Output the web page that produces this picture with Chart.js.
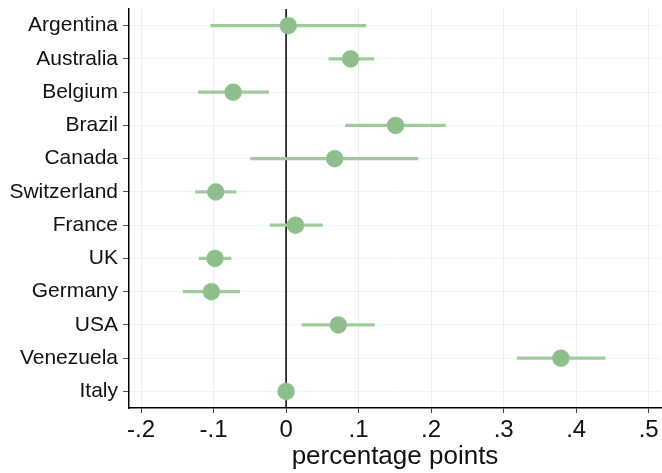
<!DOCTYPE html>
<html>
<head>
<meta charset="utf-8">
<script src="https://cdn.jsdelivr.net/npm/chart.js@4"></script>
<style>
  html, body { margin: 0; padding: 0; background: #fff; overflow: hidden; }
  #wrap { width: 670px; height: 473px; }
</style>
</head>
<body>
<div id="wrap"><canvas id="canvas1"></canvas></div>
<script>
const countries = ['Argentina', 'Australia', 'Belgium', 'Brazil', 'Canada', 'Switzerland',
  'France', 'UK', 'Germany', 'USA', 'Venezuela', 'Italy'];
const estimate = [0.003, 0.089, -0.073, 0.151, 0.067, -0.097, 0.013, -0.098, -0.103, 0.072, 0.379, 0.0];
const ciLow  = [-0.104, 0.059, -0.121, 0.082, -0.049, -0.125, -0.022, -0.120, -0.142, 0.022, 0.319, null];
const ciHigh = [0.110, 0.121, -0.024, 0.220, 0.182, -0.069, 0.050, -0.076, -0.064, 0.122, 0.440, null];
const xTicks = [-0.2, -0.1, 0, 0.1, 0.2, 0.3, 0.4, 0.5];
const xTickLabels = ['-.2', '-.1', '0', '.1', '.2', '.3', '.4', '.5'];

const ranges = ciLow.map((lo, i) => lo === null ? null : [lo, ciHigh[i]]);

// black reference line at zero, drawn over the grid but under the marks
const zeroLine = {
  id: 'zeroLine',
  beforeDatasetsDraw(chart) {
    const x = chart.scales.x.getPixelForValue(0);
    const a = chart.chartArea;
    const c = chart.ctx;
    c.save();
    c.strokeStyle = '#000';
    c.lineWidth = 1.5;
    c.beginPath();
    c.moveTo(x, a.top);
    c.lineTo(x, a.bottom);
    c.stroke();
    c.restore();
  }
};

const ctx1 = document.getElementById('canvas1');
const c1 = new Chart(ctx1, {
  type: 'bar',
  data: {
    labels: countries,
    datasets: [{
      label: 'CI',
      data: ranges,
      backgroundColor: 'rgb(160, 204, 157)',
      borderWidth: 0,
      barThickness: 2.5,
      order: 2
    }, {
      type: 'line',
      label: 'estimate',
      data: estimate,
      indexAxis: 'y',
      showLine: false,
      pointRadius: 8.5,
      pointBackgroundColor: 'rgb(143, 190, 141)',
      pointBorderColor: 'rgb(150, 196, 148)',
      pointBorderWidth: 0.5,
      order: 1
    }]
  },
  options: {
    indexAxis: 'y',
    responsive: true,
    maintainAspectRatio: false,
    animation: false,
    layout: { padding: { top: 6, right: 0, left: 0, bottom: 0 } },
    plugins: { legend: { display: false }, tooltip: { enabled: false } },
    scales: {
      x: {
        type: 'linear',
        min: -0.2166,
        max: 0.517,
        afterBuildTicks: (axis) => { axis.ticks = xTicks.map(v => ({ value: v })); },
        afterFit: (axis) => { axis.height = 65; },
        ticks: {
          callback: (v) => xTickLabels[xTicks.findIndex(t => Math.abs(t - v) < 1e-9)],
          font: { family: 'Liberation Sans', size: 24 },
          color: '#111',
          padding: 3,
          maxRotation: 0
        },
        grid: {
          color: '#e6eef0',
          lineWidth: 1,
          tickColor: '#444',
          tickLength: 5
        },
        border: { display: true, color: '#000', width: 1.5 },
        title: {
          display: true,
          text: 'percentage points',
          font: { family: 'Liberation Sans', size: 26 },
          color: '#111',
          padding: { top: 0, bottom: 1 }
        }
      },
      y: {
        type: 'category',
        offset: true,
        afterFit: (axis) => { axis.width = 129; axis.paddingTop = 0; axis.paddingBottom = 0; },
        ticks: {
          font: { family: 'Liberation Sans', size: 21 },
          color: '#111',
          padding: 5
        },
        grid: {
          offset: false,
          color: '#eef3f3',
          tickColor: '#555',
          tickLength: 6
        },
        border: { display: true, color: '#000', width: 1.5 }
      }
    }
  },
  plugins: [zeroLine]
});
</script>
</body>
</html>
